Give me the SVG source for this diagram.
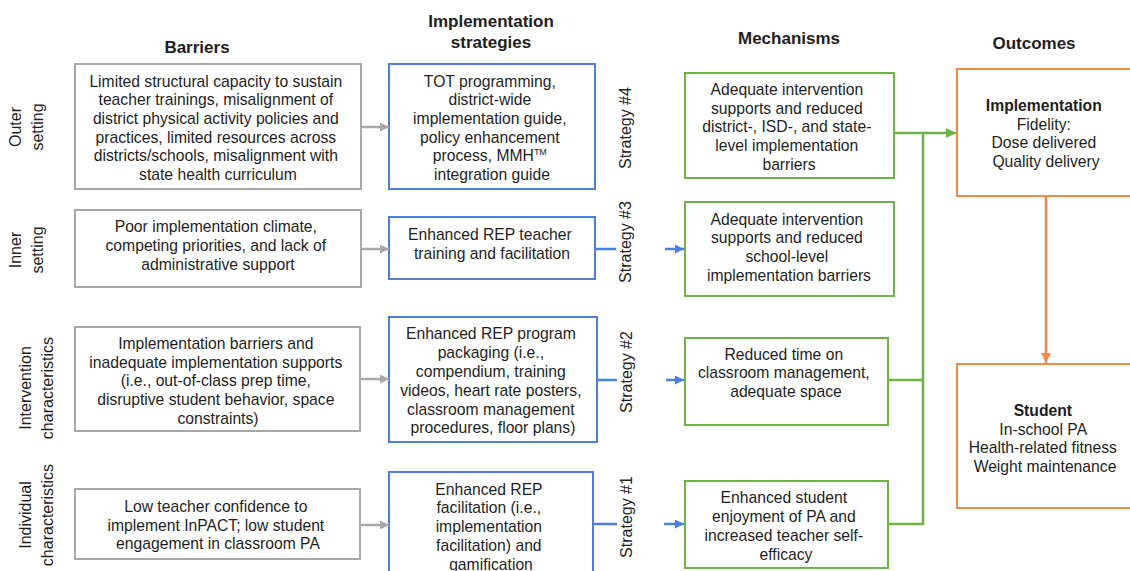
<svg xmlns="http://www.w3.org/2000/svg" width="1130" height="571" viewBox="0 0 1130 571">
  <style>
    text { font-family: "Liberation Sans", Arial, sans-serif; fill: #1e1e1e; }
    .hd { font-size: 17px; font-weight: bold; text-anchor: middle; }
    .tx { font-size: 15.7px; text-anchor: middle; }
    .b { font-weight: bold; }
    .side { font-size: 16px; text-anchor: middle; }
    .strat { font-size: 16px; text-anchor: middle; }
    .box-gray { fill: #ffffff; stroke: #a8a8a8; stroke-width: 2; }
    .box-blue { fill: #ffffff; stroke: #4a80dc; stroke-width: 2; }
    .box-green { fill: #ffffff; stroke: #6fb24a; stroke-width: 2; }
    .box-orange { fill: #ffffff; stroke: #f08a48; stroke-width: 2; }
    .ln-gray { fill: none; stroke: #a8a8a8; stroke-width: 2.5; }
    .ln-blue { fill: none; stroke: #4a80dc; stroke-width: 2.5; }
    .ln-green { fill: none; stroke: #6fb24a; stroke-width: 2.5; }
    .ln-orange { fill: none; stroke: #f08a48; stroke-width: 2.5; }
  </style>
  <defs>
    <marker id="ah-gray" viewBox="0 0 10 10" refX="10" refY="5" markerWidth="9" markerHeight="9" markerUnits="userSpaceOnUse" orient="auto">
      <path d="M0,0 L10,5 L0,10 z" fill="#a8a8a8"/>
    </marker>
    <marker id="ah-blue" viewBox="0 0 10 10" refX="10" refY="5" markerWidth="9" markerHeight="9" markerUnits="userSpaceOnUse" orient="auto">
      <path d="M0,0 L10,5 L0,10 z" fill="#4a80dc"/>
    </marker>
    <marker id="ah-green" viewBox="0 0 10 10" refX="10" refY="5" markerWidth="10" markerHeight="10" markerUnits="userSpaceOnUse" orient="auto">
      <path d="M0,0 L10,5 L0,10 z" fill="#6fb24a"/>
    </marker>
    <marker id="ah-orange" viewBox="0 0 10 10" refX="10" refY="5" markerWidth="10" markerHeight="10" markerUnits="userSpaceOnUse" orient="auto">
      <path d="M0,0 L10,5 L0,10 z" fill="#f08a48"/>
    </marker>
  </defs>

  <rect x="0" y="0" width="1130" height="571" fill="#ffffff"/>

  <!-- column headers -->
  <g id="headers">
    <text class="hd" x="197" y="53">Barriers</text>
    <text class="hd" x="491" y="27">Implementation</text>
    <text class="hd" x="491" y="48">strategies</text>
    <text class="hd" x="789" y="44">Mechanisms</text>
    <text class="hd" x="1034" y="49">Outcomes</text>
  </g>

  <!-- row labels (rotated) -->
  <g id="row-labels">
    <text class="side" transform="translate(0,127) rotate(-90)"><tspan x="0" y="21">Outer</tspan><tspan x="0" y="43">setting</tspan></text>
    <text class="side" transform="translate(0,250) rotate(-90)"><tspan x="0" y="21">Inner</tspan><tspan x="0" y="43">setting</tspan></text>
    <text class="side" transform="translate(0,388) rotate(-90)"><tspan x="0" y="31">Intervention</tspan><tspan x="0" y="53">characteristics</tspan></text>
    <text class="side" transform="translate(0,515) rotate(-90)"><tspan x="0" y="31">Individual</tspan><tspan x="0" y="53">characteristics</tspan></text>
  </g>

  <!-- barriers -->
  <g id="barrier-outer">
    <rect class="box-gray" x="75" y="64" width="286" height="125"/>
    <text class="tx">
      <tspan x="218" y="86.5">Limited structural capacity to sustain</tspan>
      <tspan x="218" y="105.2">teacher trainings, misalignment of</tspan>
      <tspan x="218" y="123.9">district physical activity policies and</tspan>
      <tspan x="218" y="142.6">practices, limited resources across</tspan>
      <tspan x="218" y="161.3">districts/schools, misalignment with</tspan>
      <tspan x="218" y="180">state health curriculum</tspan>
    </text>
  </g>
  <g id="barrier-inner">
    <rect class="box-gray" x="75" y="210" width="286" height="77"/>
    <text class="tx">
      <tspan x="218" y="232">Poor implementation climate,</tspan>
      <tspan x="218" y="251">competing priorities, and lack of</tspan>
      <tspan x="218" y="270">administrative support</tspan>
    </text>
  </g>
  <g id="barrier-intervention">
    <rect class="box-gray" x="75" y="327" width="285" height="104"/>
    <text class="tx">
      <tspan x="218" y="349">Implementation barriers and</tspan>
      <tspan x="218" y="367.5">inadequate implementation supports</tspan>
      <tspan x="218" y="386">(i.e., out-of-class prep time,</tspan>
      <tspan x="218" y="405">disruptive student behavior, space</tspan>
      <tspan x="218" y="424">constraints)</tspan>
    </text>
  </g>
  <g id="barrier-individual">
    <rect class="box-gray" x="75" y="489" width="285" height="70"/>
    <text class="tx">
      <tspan x="218" y="511.5">Low teacher confidence to</tspan>
      <tspan x="218" y="530.5">implement InPACT; low student</tspan>
      <tspan x="218" y="549">engagement in classroom PA</tspan>
    </text>
  </g>

  <!-- implementation strategies -->
  <g id="strategy-4">
    <rect class="box-blue" x="389" y="64" width="206" height="125"/>
    <text class="tx">
      <tspan x="492" y="86.5">TOT programming,</tspan>
      <tspan x="492" y="105.2">district-wide</tspan>
      <tspan x="492" y="123.9">implementation guide,</tspan>
      <tspan x="492" y="142.6">policy enhancement</tspan>
      <tspan x="492" y="161.3">process, MMH<tspan font-size="9" dy="-6">TM</tspan></tspan>
      <tspan x="492" y="180">integration guide</tspan>
    </text>
    <text class="strat" transform="translate(631,128) rotate(-90)" x="0" y="0">Strategy #4</text>
  </g>
  <g id="strategy-3">
    <rect class="box-blue" x="389" y="217" width="206" height="62"/>
    <text class="tx">
      <tspan x="492" y="240">Enhanced REP teacher</tspan>
      <tspan x="492" y="258.5">training and facilitation</tspan>
    </text>
    <text class="strat" transform="translate(631,242) rotate(-90)" x="0" y="0">Strategy #3</text>
  </g>
  <g id="strategy-2">
    <rect class="box-blue" x="389" y="317" width="208" height="125"/>
    <text class="tx">
      <tspan x="493" y="339">Enhanced REP program</tspan>
      <tspan x="493" y="358">packaging (i.e.,</tspan>
      <tspan x="493" y="376.5">compendium, training</tspan>
      <tspan x="493" y="395.5">videos, heart rate posters,</tspan>
      <tspan x="493" y="414.5">classroom management</tspan>
      <tspan x="493" y="433">procedures, floor plans)</tspan>
    </text>
    <text class="strat" transform="translate(632,372) rotate(-90)" x="0" y="0">Strategy #2</text>
  </g>
  <g id="strategy-1">
    <rect class="box-blue" x="389" y="472" width="204" height="110"/>
    <text class="tx">
      <tspan x="491" y="494.5">Enhanced REP</tspan>
      <tspan x="491" y="513">facilitation (i.e.,</tspan>
      <tspan x="491" y="532">implementation</tspan>
      <tspan x="491" y="550.5">facilitation) and</tspan>
      <tspan x="491" y="569.5">gamification</tspan>
    </text>
    <text class="strat" transform="translate(632,517) rotate(-90)" x="0" y="0">Strategy #1</text>
  </g>

  <!-- mechanisms -->
  <g id="mechanism-outer">
    <rect class="box-green" x="685" y="73" width="209" height="105"/>
    <text class="tx">
      <tspan x="789" y="95">Adequate intervention</tspan>
      <tspan x="789" y="113.5">supports and reduced</tspan>
      <tspan x="789" y="132">district-, ISD-, and state-</tspan>
      <tspan x="789" y="150.5">level implementation</tspan>
      <tspan x="789" y="169.5">barriers</tspan>
    </text>
  </g>
  <g id="mechanism-inner">
    <rect class="box-green" x="685" y="202" width="209" height="94"/>
    <text class="tx">
      <tspan x="789" y="224.5">Adequate intervention</tspan>
      <tspan x="789" y="243">supports and reduced</tspan>
      <tspan x="789" y="262">school-level</tspan>
      <tspan x="789" y="280.5">implementation barriers</tspan>
    </text>
  </g>
  <g id="mechanism-intervention">
    <rect class="box-green" x="685" y="338" width="203" height="87"/>
    <text class="tx">
      <tspan x="786" y="359.5">Reduced time on</tspan>
      <tspan x="786" y="378">classroom management,</tspan>
      <tspan x="786" y="397">adequate space</tspan>
    </text>
  </g>
  <g id="mechanism-individual">
    <rect class="box-green" x="685" y="481" width="203" height="87"/>
    <text class="tx">
      <tspan x="786" y="503">Enhanced student</tspan>
      <tspan x="786" y="521.5">enjoyment of PA and</tspan>
      <tspan x="786" y="540.5">increased teacher self-</tspan>
      <tspan x="786" y="559.5">efficacy</tspan>
    </text>
  </g>

  <!-- outcomes -->
  <g id="outcome-implementation">
    <rect class="box-orange" x="957" y="69" width="180" height="127"/>
    <text class="tx">
      <tspan class="b" x="1046" y="110.5">Implementation</tspan>
      <tspan x="1046" y="129.5">Fidelity:</tspan>
      <tspan x="1046" y="148">Dose delivered</tspan>
      <tspan x="1046" y="167">Quality delivery</tspan>
    </text>
  </g>
  <g id="outcome-student">
    <rect class="box-orange" x="957" y="364" width="180" height="144"/>
    <text class="tx">
      <tspan class="b" x="1045" y="415.5">Student</tspan>
      <tspan x="1045" y="434.5">In-school PA</tspan>
      <tspan x="1045" y="453">Health-related fitness</tspan>
      <tspan x="1045" y="471.5">Weight maintenance</tspan>
    </text>
  </g>

  <!-- connectors -->
  <g id="connectors">
    <!-- barrier to strategy -->
    <line class="ln-gray" x1="361" y1="127" x2="389" y2="127" marker-end="url(#ah-gray)"/>
    <line class="ln-gray" x1="361" y1="249" x2="389" y2="249" marker-end="url(#ah-gray)"/>
    <line class="ln-gray" x1="360" y1="379" x2="389" y2="379" marker-end="url(#ah-gray)"/>
    <line class="ln-gray" x1="360" y1="525" x2="389" y2="525" marker-end="url(#ah-gray)"/>

    <!-- strategy to mechanism -->
    <line class="ln-blue" x1="595" y1="249" x2="616" y2="249"/>
    <line class="ln-blue" x1="665" y1="249" x2="684" y2="249" marker-end="url(#ah-blue)"/>
    <line class="ln-blue" x1="597" y1="380" x2="617" y2="380"/>
    <line class="ln-blue" x1="666" y1="380" x2="684" y2="380" marker-end="url(#ah-blue)"/>
    <line class="ln-blue" x1="593" y1="524" x2="617" y2="524"/>
    <line class="ln-blue" x1="664" y1="524" x2="684" y2="524" marker-end="url(#ah-blue)"/>

    <!-- mechanisms to implementation outcome -->
    <polyline class="ln-green" points="888,524 923,524 923,133"/>
    <line class="ln-green" x1="888" y1="380" x2="923" y2="380"/>
    <line class="ln-green" x1="894" y1="133" x2="956" y2="133" marker-end="url(#ah-green)"/>

    <!-- implementation outcome to student outcome -->
    <line class="ln-orange" x1="1046" y1="196" x2="1046" y2="363" marker-end="url(#ah-orange)"/>
  </g>
</svg>
